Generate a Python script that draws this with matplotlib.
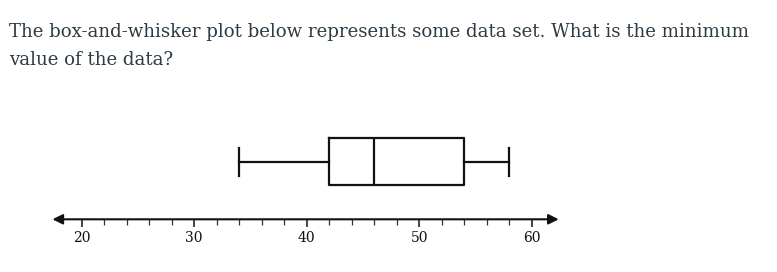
import matplotlib
matplotlib.use("Agg")
import matplotlib.pyplot as plt

# ---- data ----
question_lines = [
    "The box-and-whisker plot below represents some data set. What is the minimum",
    "value of the data?",
]
box_min = 34
box_q1 = 42
box_median = 46
box_q3 = 54
box_max = 58
major_ticks = [20, 30, 40, 50, 60]
minor_ticks = [22, 24, 26, 28, 32, 34, 36, 38, 42, 44, 46, 48, 52, 54, 56, 58]
axis_range = (17.4, 62.4)

W, H = 777, 272
DPI = 100
fig = plt.figure(figsize=(W / DPI, H / DPI), dpi=DPI)
ax = fig.add_axes([0, 0, 1, 1])

# map pixels -> data: 20 at px 81.7, 11.25 px per unit
px20, ppu = 81.7, 11.25
ax.set_xlim(20 - px20 / ppu, 20 + (W - px20) / ppu)
ax.set_ylim(H, 0)  # y in pixel units, top-down
ax.patch.set_visible(False)

text_color = "#2d3b45"
ink = "#111111"

# ---- question text ----
fs = 15
t1 = fig.text(9 / W, 1 - 36.7 / H, question_lines[0], fontsize=fs,
              family="DejaVu Serif", color=text_color, va="baseline", ha="left")
fig.canvas.draw()
bb = t1.get_window_extent()
fs = fs * 746.0 / bb.width
t1.set_fontsize(fs)
fig.text(9 / W, 1 - 65 / H, question_lines[1], fontsize=fs,
         family="DejaVu Serif", color=text_color, va="baseline", ha="left")

# ---- box plot ----
stats = [dict(whislo=box_min, q1=box_q1, med=box_median, q3=box_q3,
              whishi=box_max, fliers=[])]
lw = 1.6
ax.bxp(stats, positions=[161.5], widths=[47], vert=False, showfliers=False,
       capwidths=[28],
       boxprops=dict(color=ink, linewidth=lw),
       whiskerprops=dict(color=ink, linewidth=lw),
       capprops=dict(color=ink, linewidth=lw),
       medianprops=dict(color=ink, linewidth=lw),
       manage_ticks=False)

# ---- number line ----
for s in ["left", "right", "top", "bottom"]:
    ax.spines[s].set_visible(False)
ax.spines["bottom"].set_position(("data", 219.3))
ax.yaxis.set_visible(False)
ax.set_xticks(major_ticks)
ax.set_xticks(minor_ticks, minor=True)
ax.set_xticklabels([str(v) for v in major_ticks])
ax.tick_params(axis="x", which="major", direction="out", length=5.5, width=1.1,
               color=ink, labelsize=10, labelcolor=ink, pad=3.0)
ax.tick_params(axis="x", which="minor", direction="out", length=4, width=0.9,
               color="#333333")
for lab in ax.get_xticklabels():
    lab.set_family("DejaVu Serif")

ax.annotate("", xy=(axis_range[1], 219.3), xytext=(axis_range[0], 219.3),
            arrowprops=dict(arrowstyle="<|-|>,head_length=0.6,head_width=0.3",
                            color=ink, lw=1.5, shrinkA=0, shrinkB=0,
                            mutation_scale=10))

fig.savefig("out.png", dpi=DPI, facecolor="white")
